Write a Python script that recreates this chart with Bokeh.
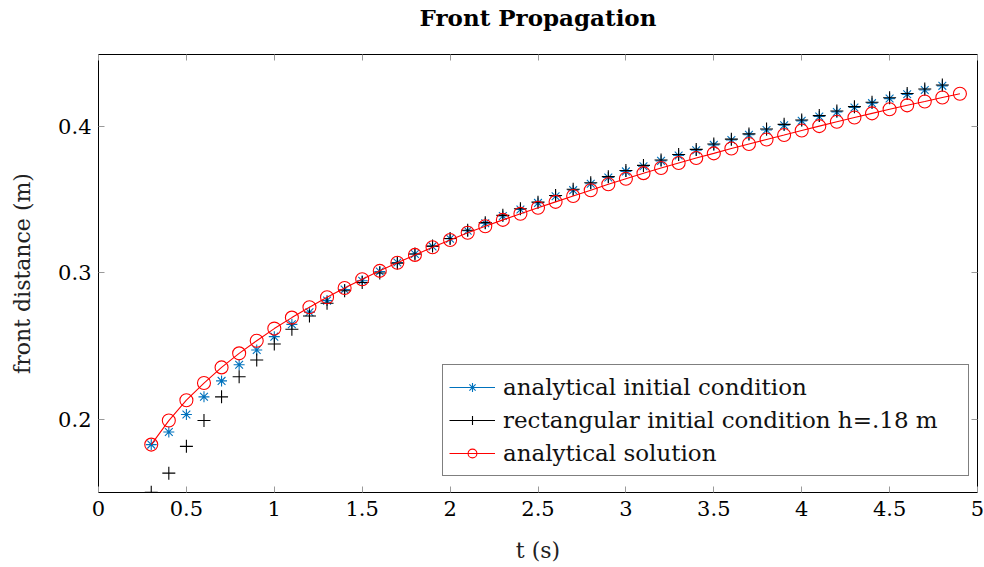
from bokeh.plotting import figure
from bokeh.models import Range1d, LinearAxis, Legend, LegendItem, FixedTicker
from bokeh.embed import file_html
from bokeh.resources import INLINE

# ---------------- data ----------------
t_analytical = [0.3, 0.4, 0.5, 0.6, 0.7, 0.8, 0.9, 1.0, 1.1, 1.2, 1.3, 1.4, 1.5, 1.6,
                1.7, 1.8, 1.9, 2.0, 2.1, 2.2, 2.3, 2.4, 2.5, 2.6, 2.7, 2.8, 2.9, 3.0,
                3.1, 3.2, 3.3, 3.4, 3.5, 3.6, 3.7, 3.8, 3.9, 4.0, 4.1, 4.2, 4.3, 4.4,
                4.5, 4.6, 4.7, 4.8, 4.9]
front_analytical = [0.1827, 0.1991, 0.2130, 0.2247, 0.2354, 0.2450, 0.2536, 0.2619,
                    0.2694, 0.2765, 0.2833, 0.2896, 0.2956, 0.3013, 0.3068, 0.3122,
                    0.3174, 0.3224, 0.3273, 0.3318, 0.3361, 0.3403, 0.3444, 0.3484,
                    0.3524, 0.3563, 0.3604, 0.3642, 0.3680, 0.3715, 0.3749, 0.3783,
                    0.3815, 0.3848, 0.3879, 0.3910, 0.3940, 0.3971, 0.4001, 0.4031,
                    0.4060, 0.4088, 0.4116, 0.4143, 0.4169, 0.4196, 0.4222]

t_sim = [0.3, 0.4, 0.5, 0.6, 0.7, 0.8, 0.9, 1.0, 1.1, 1.2, 1.3, 1.4, 1.5, 1.6,
         1.7, 1.8, 1.9, 2.0, 2.1, 2.2, 2.3, 2.4, 2.5, 2.6, 2.7, 2.8, 2.9, 3.0,
         3.1, 3.2, 3.3, 3.4, 3.5, 3.6, 3.7, 3.8, 3.9, 4.0, 4.1, 4.2, 4.3, 4.4,
         4.5, 4.6, 4.7, 4.8]
front_analytical_ic = [0.1827, 0.1913, 0.2032, 0.2153, 0.2262, 0.2372, 0.2473, 0.2564,
                       0.2648, 0.2731, 0.2810, 0.2886, 0.2945, 0.3009, 0.3070, 0.3128,
                       0.3180, 0.3232, 0.3287, 0.3338, 0.3388, 0.3432, 0.3477, 0.3522,
                       0.3564, 0.3608, 0.3650, 0.3692, 0.3727, 0.3764, 0.3801, 0.3836,
                       0.3873, 0.3906, 0.3942, 0.3975, 0.4007, 0.4037, 0.4067, 0.4098,
                       0.4128, 0.4158, 0.4189, 0.4218, 0.4248, 0.4276]
front_rect_ic = [0.1502, 0.1632, 0.1815, 0.1991, 0.2153, 0.2290, 0.2404, 0.2514,
                 0.2614, 0.2705, 0.2792, 0.2877, 0.2934, 0.2998, 0.3066, 0.3128,
                 0.3182, 0.3234, 0.3290, 0.3342, 0.3392, 0.3437, 0.3482, 0.3527,
                 0.3570, 0.3614, 0.3656, 0.3698, 0.3733, 0.3770, 0.3807, 0.3842,
                 0.3879, 0.3912, 0.3948, 0.3981, 0.4013, 0.4043, 0.4073, 0.4104,
                 0.4134, 0.4164, 0.4195, 0.4224, 0.4254, 0.4282]

x_ticks = [0, 0.5, 1, 1.5, 2, 2.5, 3, 3.5, 4, 4.5, 5]
x_tick_labels = ["0", "0.5", "1", "1.5", "2", "2.5", "3", "3.5", "4", "4.5", "5"]
y_ticks = [0.2, 0.3, 0.4]
y_tick_labels = ["0.2", "0.3", "0.4"]

title_text = "Front Propagation"
series_labels = ["analytical initial condition",
                 "rectangular initial condition h=.18 m",
                 "analytical solution"]

# ---------------- style ----------------
FONT = "DejaVu Serif"
BLUE = "#0072BD"
TICK_GREY = "#9a9a9a"
NAN = float("nan")

p = figure(width=984, height=567, output_backend="svg", toolbar_location=None,
           x_range=Range1d(0, 5), y_range=Range1d(0.15, 0.449),
           min_border_left=98, min_border_right=7, min_border_top=54,
           min_border_bottom=75)
p.background_fill_color = "white"
p.border_fill_color = "white"
p.outline_line_color = "black"
p.outline_line_width = 1
p.grid.visible = False

def style_axis(ax, show_labels):
    ax.major_tick_in = 6
    ax.major_tick_out = 0
    ax.minor_tick_in = 0
    ax.minor_tick_out = 0
    ax.major_tick_line_color = TICK_GREY
    ax.axis_line_color = None
    ax.major_label_text_font = FONT
    ax.major_label_text_font_size = "21px"
    ax.major_label_text_color = "black" if show_labels else None
    ax.axis_label_text_font = FONT
    ax.axis_label_text_font_size = "22px"
    ax.axis_label_text_font_style = "normal"
    ax.axis_label_text_color = "#222222"

xax = p.xaxis[0]
xax.ticker = FixedTicker(ticks=x_ticks)
xax.major_label_overrides = {t: l for t, l in zip(x_ticks, x_tick_labels)}
xax.axis_label = "t (s)"
xax.major_label_standoff = 8
xax.axis_label_standoff = 19
style_axis(xax, True)

yax = p.yaxis[0]
yax.ticker = FixedTicker(ticks=y_ticks)
yax.major_label_overrides = {t: l for t, l in zip(y_ticks, y_tick_labels)}
yax.axis_label = "front distance (m)"
yax.major_label_standoff = 7
yax.axis_label_standoff = 20
style_axis(yax, True)

# mirrored top axis: ticks only, carries the chart title as its label
top = LinearAxis(ticker=FixedTicker(ticks=x_ticks))
style_axis(top, False)
top.major_label_text_font_size = "0px"
top.major_label_standoff = 0
top.axis_label = title_text
top.axis_label_text_font = FONT
top.axis_label_text_font_size = "23px"
top.axis_label_text_font_style = "bold"
top.axis_label_text_color = "black"
top.axis_label_standoff = 24
p.add_layout(top, "above")

right = LinearAxis(ticker=FixedTicker(ticks=y_ticks))
style_axis(right, False)
right.major_label_text_font_size = "0px"
right.major_label_standoff = 0
p.add_layout(right, "right")

# ---------------- series ----------------
r_blue = p.scatter(t_sim, front_analytical_ic, marker="asterisk", size=11,
                   line_color=BLUE, line_width=1.1)
r_black = p.scatter(t_sim, front_rect_ic, marker="cross", size=13,
                    line_color="black", line_width=1.1)
r_red_line = p.line(t_analytical, front_analytical, line_color="red", line_width=1.1)
r_red_pts = p.scatter(t_analytical, front_analytical, marker="circle", size=13,
                      line_color="red", fill_color=None, line_width=1.1)

# legend-only line samples (a single undefined point draws nothing on the plot)
leg_blue = p.line(x=[NAN], y=[NAN], line_color=BLUE, line_width=1.1)
leg_black = p.line(x=[NAN], y=[NAN], line_color="black", line_width=1.1)

legend = Legend(items=[
    LegendItem(label=series_labels[0], renderers=[leg_blue, r_blue]),
    LegendItem(label=series_labels[1], renderers=[leg_black, r_black]),
    LegendItem(label=series_labels[2], renderers=[r_red_line, r_red_pts]),
], location=(344, 16))
legend.label_text_font = FONT
legend.label_text_font_size = "23px"
legend.label_text_color = "#111111"
legend.border_line_color = "black"
legend.border_line_width = 1
legend.background_fill_color = "white"
legend.background_fill_alpha = 1
legend.padding = 6
legend.spacing = 1
legend.margin = 0
legend.label_height = 32
legend.glyph_height = 22
legend.glyph_width = 46
legend.label_standoff = 8
legend.label_width = 459
p.add_layout(legend)

open("out.html", "w").write(file_html(p, INLINE))
